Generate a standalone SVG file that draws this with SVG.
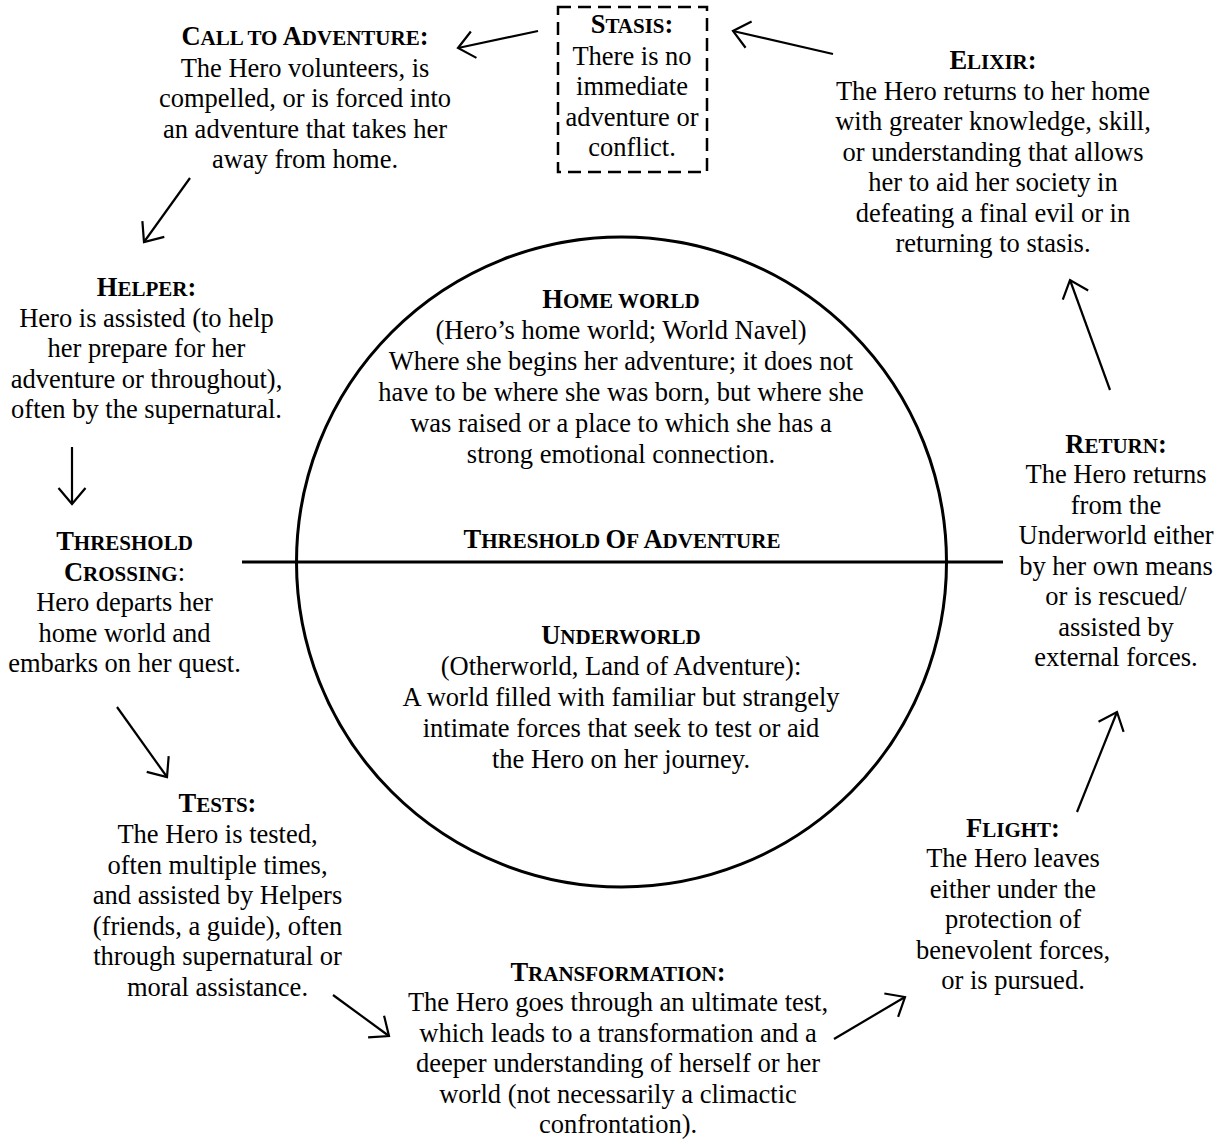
<svg xmlns="http://www.w3.org/2000/svg" width="1225" height="1139" viewBox="0 0 1225 1139">
<style>
text{font-family:"Liberation Serif","Times New Roman",serif;font-size:26.5px;fill:#000;text-anchor:middle}
.h{font-weight:bold}
.s{font-size:21px}
.n{font-weight:normal}
.conn line{stroke:#000;stroke-width:2.2;fill:none;marker-end:url(#arr)}
</style>
<defs>
<marker id="arr" markerUnits="userSpaceOnUse" markerWidth="40" markerHeight="40" viewBox="-20 -20 40 40" refX="0" refY="0" orient="auto" overflow="visible">
<path d="M-16,-13.5 L0,0 L-16,13.5" fill="none" stroke="#000" stroke-width="2.2"/>
</marker>
</defs>
<rect width="1225" height="1139" fill="#fff"/>

<g id="world">
<circle cx="621.5" cy="562" r="325" fill="none" stroke="#000" stroke-width="3"/>
<line x1="242" y1="562" x2="1003" y2="562" stroke="#000" stroke-width="3"/>
</g>

<g id="home-world">
<text x="621" y="308" class="h">H<tspan class="s">OME WORLD</tspan></text>
<text x="621" y="339">(Hero’s home world; World Navel)</text>
<text x="621" y="370">Where she begins her adventure; it does not</text>
<text x="621" y="401">have to be where she was born, but where she</text>
<text x="621" y="432">was raised or a place to which she has a</text>
<text x="621" y="463">strong emotional connection.</text>
</g>

<g id="threshold-of-adventure">
<text x="622" y="548" class="h">T<tspan class="s">HRESHOLD </tspan>O<tspan class="s">F </tspan>A<tspan class="s">DVENTURE</tspan></text>
</g>

<g id="underworld">
<text x="621" y="644" class="h">U<tspan class="s">NDERWORLD</tspan></text>
<text x="621" y="675">(Otherworld, Land of Adventure):</text>
<text x="621" y="706">A world filled with familiar but strangely</text>
<text x="621" y="737">intimate forces that seek to test or aid</text>
<text x="621" y="768">the Hero on her journey.</text>
</g>

<g id="stasis">
<rect x="558" y="7" width="149" height="165" fill="none" stroke="#000" stroke-width="2.5" stroke-dasharray="13 7"/>
<text x="632" y="33" class="h">S<tspan class="s">TASIS</tspan>:</text>
<text x="632" y="64.5">There is no</text>
<text x="632" y="95">immediate</text>
<text x="632" y="125.5">adventure or</text>
<text x="632" y="156">conflict.</text>
</g>

<g id="call-to-adventure">
<text x="305" y="45" class="h">C<tspan class="s">ALL TO </tspan>A<tspan class="s">DVENTURE</tspan>:</text>
<text x="305" y="76.5">The Hero volunteers, is</text>
<text x="305" y="107">compelled, or is forced into</text>
<text x="305" y="137.5">an adventure that takes her</text>
<text x="305" y="168">away from home.</text>
</g>

<g id="elixir">
<text x="993" y="69" class="h">E<tspan class="s">LIXIR</tspan>:</text>
<text x="993" y="99.5">The Hero returns to her home</text>
<text x="993" y="130">with greater knowledge, skill,</text>
<text x="993" y="160.5">or understanding that allows</text>
<text x="993" y="191">her to aid her society in</text>
<text x="993" y="221.5">defeating a final evil or in</text>
<text x="993" y="252">returning to stasis.</text>
</g>

<g id="helper">
<text x="146.5" y="296" class="h">H<tspan class="s">ELPER</tspan>:</text>
<text x="146.5" y="326.5">Hero is assisted (to help</text>
<text x="146.5" y="357">her prepare for her</text>
<text x="146.5" y="387.5">adventure or throughout),</text>
<text x="146.5" y="418">often by the supernatural.</text>
</g>

<g id="threshold-crossing">
<text x="124.5" y="550" class="h">T<tspan class="s">HRESHOLD</tspan></text>
<text x="124.5" y="580.5" class="h">C<tspan class="s">ROSSING</tspan><tspan class="n">:</tspan></text>
<text x="124.5" y="611">Hero departs her</text>
<text x="124.5" y="641.5">home world and</text>
<text x="124.5" y="672">embarks on her quest.</text>
</g>

<g id="tests">
<text x="217.5" y="812" class="h">T<tspan class="s">ESTS</tspan>:</text>
<text x="217.5" y="843">The Hero is tested,</text>
<text x="217.5" y="873.5">often multiple times,</text>
<text x="217.5" y="904">and assisted by Helpers</text>
<text x="217.5" y="934.5">(friends, a guide), often</text>
<text x="217.5" y="965">through supernatural or</text>
<text x="217.5" y="995.5">moral assistance.</text>
</g>

<g id="transformation">
<text x="618" y="981" class="h">T<tspan class="s">RANSFORMATION</tspan>:</text>
<text x="618" y="1011">The Hero goes through an ultimate test,</text>
<text x="618" y="1041.5">which leads to a transformation and a</text>
<text x="618" y="1072">deeper understanding of herself or her</text>
<text x="618" y="1102.5">world (not necessarily a climactic</text>
<text x="618" y="1133">confrontation).</text>
</g>

<g id="flight">
<text x="1013" y="836.5" class="h">F<tspan class="s">LIGHT</tspan>:</text>
<text x="1013" y="867">The Hero leaves</text>
<text x="1013" y="897.5">either under the</text>
<text x="1013" y="928">protection of</text>
<text x="1013" y="958.5">benevolent forces,</text>
<text x="1013" y="989">or is pursued.</text>
</g>

<g id="return">
<text x="1116" y="452.5" class="h">R<tspan class="s">ETURN</tspan>:</text>
<text x="1116" y="483">The Hero returns</text>
<text x="1116" y="513.5">from the</text>
<text x="1116" y="544">Underworld either</text>
<text x="1116" y="574.5">by her own means</text>
<text x="1116" y="605">or is rescued/</text>
<text x="1116" y="635.5">assisted by</text>
<text x="1116" y="666">external forces.</text>
</g>

<g id="connectors" class="conn">
<line x1="538" y1="31" x2="458" y2="48"/>
<line x1="833" y1="54" x2="733" y2="31"/>
<line x1="190" y1="178" x2="144" y2="242"/>
<line x1="72" y1="447" x2="72" y2="504"/>
<line x1="117" y1="707" x2="167" y2="777"/>
<line x1="333" y1="995" x2="389" y2="1036"/>
<line x1="834" y1="1039" x2="905" y2="997"/>
<line x1="1077" y1="812" x2="1117" y2="712"/>
<line x1="1110" y1="390" x2="1070" y2="280"/>
</g>
</svg>
